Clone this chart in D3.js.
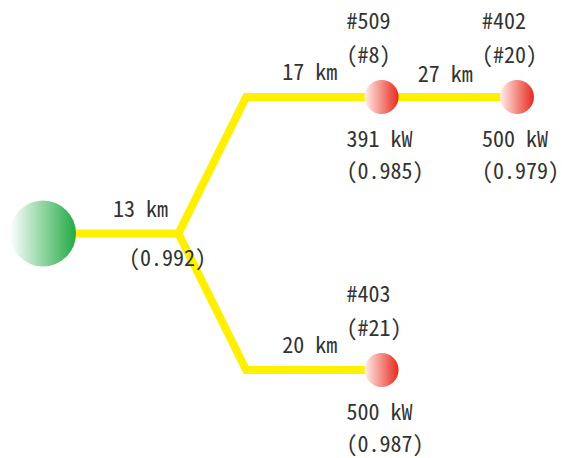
<!DOCTYPE html>
<html><head><meta charset="utf-8">
<script src="https://cdn.jsdelivr.net/npm/d3@7"></script>
<style>
html,body{margin:0;padding:0;background:#fff;}
text{font-family:"Noto Sans Mono CJK JP","Noto Sans CJK JP","DejaVu Sans Mono",monospace;fill:#333;}
</style></head>
<body>
<svg id="chart" width="562" height="458"></svg>
<script>
// ---- data ----
const nodeNames  = ["#509", "#402", "#403"];
const nodeIds    = ["#8", "#20", "#21"];
const nodeKW     = [391, 500, 500];
const nodeRatio  = [0.985, 0.979, 0.987];
const nodeParent = ["junction", "#509", "junction"];
const nodeBranch = [-1, -1, 1];          // -1 = upper branch, 1 = lower branch
const edgeKm     = [13, 17, 27, 20];     // source->junction, junction->#509, #509->#402, junction->#403
const junctionRatio = 0.992;

// ---- layout ----
const svg = d3.select("#chart");
const x = d3.scaleLinear().domain([0, 3.5]).range([43, 517]);
const y = d3.scaleLinear().domain([-1, 1]).range([97, 370]);

const defs = svg.append("defs");
const gG = defs.append("linearGradient").attr("id","gGreen").attr("x1","0").attr("x2","1").attr("y1","0").attr("y2","0");
gG.append("stop").attr("offset","0%").attr("stop-color","#ffffff");
gG.append("stop").attr("offset","100%").attr("stop-color","#22aa44");
const gR = defs.append("linearGradient").attr("id","gRed").attr("x1","0").attr("x2","1").attr("y1","0").attr("y2","0");
gR.append("stop").attr("offset","0%").attr("stop-color","#fff0ea");
gR.append("stop").attr("offset","100%").attr("stop-color","#e8281e");

// node positions (column units): source 0, junction 1, children of junction 2.5, further +1
const pos = {source:{c:0,r:0}, junction:{c:1,r:0}};
nodeNames.forEach((n,i)=>{
  const p = pos[nodeParent[i]];
  pos[n] = {c: p.c + (nodeParent[i]==="junction" ? 1.5 : 1), r: nodeBranch[i]};
});

const line = d3.line().x(d=>x(d.c)).y(d=>y(d.r));
const yellow = "#fff000";
// edges
const edges = [
  {pts:[pos.source, pos.junction], km:edgeKm[0], lx:x(0.72), ly:y(0)-17},
  {pts:[pos.junction, {c:1.5,r:-1}, pos["#509"]], km:edgeKm[1], lx:x(1.97), ly:y(-1)-17},
  {pts:[pos["#509"], pos["#402"]], km:edgeKm[2], lx:x(2.97), ly:y(-1)-15},
  {pts:[pos.junction, {c:1.5,r:1}, pos["#403"]], km:edgeKm[3], lx:x(1.97), ly:y(1)-17}
];
svg.append("g").selectAll("path").data(edges).join("path")
  .attr("d", d=>line(d.pts)).attr("fill","none").attr("stroke",yellow)
  .attr("stroke-width",8).attr("stroke-linejoin","miter");

// circles
svg.append("circle").attr("cx",x(0)).attr("cy",y(0)).attr("r",33).attr("fill","url(#gGreen)");
svg.append("g").selectAll("circle").data(nodeNames).join("circle")
  .attr("cx",d=>x(pos[d].c)).attr("cy",d=>y(pos[d].r)).attr("r",17).attr("fill","url(#gRed)");

const fs = 22;
const fmt = d3.format(".3f");
// edge labels
svg.append("g").selectAll("text").data(edges).join("text")
  .attr("x",d=>d.lx).attr("y",d=>d.ly).attr("text-anchor","middle").attr("font-size",fs)
  .text(d=>`${d.km} km`);
// junction ratio
svg.append("text").attr("x",x(1)-11).attr("y",y(0)+32).attr("text-anchor","middle").attr("font-size",fs)
  .text(`(${fmt(junctionRatio)})`);
// node labels
const lab = svg.append("g").selectAll("g").data(nodeNames).join("g")
  .attr("transform",d=>`translate(${x(pos[d].c)-35},${y(pos[d].r)})`);
lab.append("text").attr("y",-68).attr("font-size",fs).text(d=>d);
lab.append("text").attr("y",-34).attr("font-size",fs).text((d,i)=>`(${nodeIds[i]})`);
lab.append("text").attr("y",50).attr("font-size",fs).text((d,i)=>`${nodeKW[i]} kW`);
lab.append("text").attr("y",82).attr("font-size",fs).text((d,i)=>`(${fmt(nodeRatio[i])})`);
</script>
</body></html>
